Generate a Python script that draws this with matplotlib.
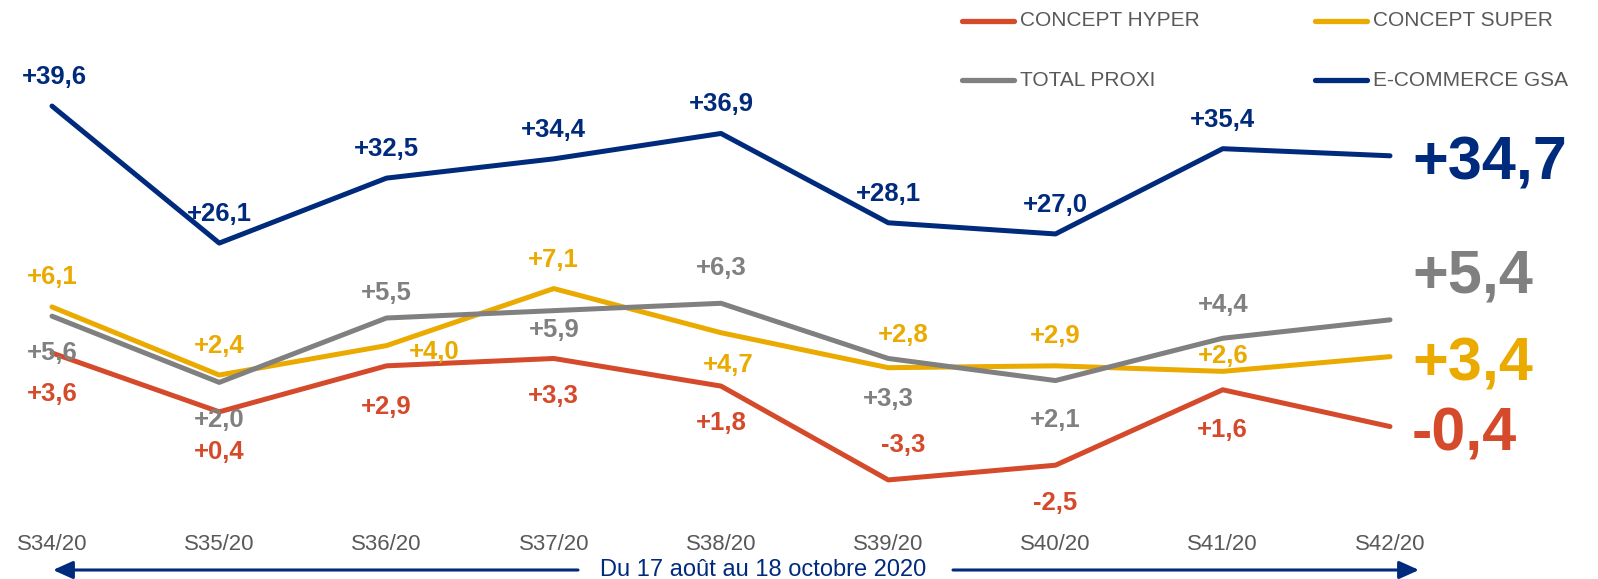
import matplotlib
matplotlib.use('Agg')
from matplotlib import pyplot as plt
from matplotlib.lines import Line2D

plt.rcParams['font.family'] = ['Liberation Sans', 'DejaVu Sans']

# data
weeks = ['S34/20', 'S35/20', 'S36/20', 'S37/20', 'S38/20', 'S39/20', 'S40/20', 'S41/20', 'S42/20']
hyper = [3.6, 0.4, 2.9, 3.3, 1.8, -3.3, -2.5, 1.6, -0.4]
super_ = [6.1, 2.4, 4.0, 7.1, 4.7, 2.8, 2.9, 2.6, 3.4]
proxi = [5.6, 2.0, 5.5, 5.9, 6.3, 3.3, 2.1, 4.4, 5.4]
ecom = [39.6, 26.1, 32.5, 34.4, 36.9, 28.1, 27.0, 35.4, 34.7]
names = ['CONCEPT HYPER', 'CONCEPT SUPER', 'TOTAL PROXI', 'E-COMMERCE GSA']
period = 'Du 17 août au 18 octobre 2020'

RED = '#D44A2A'
YELLOW = '#EBAA00'
GRAY = '#808080'
NAVY = '#002A7C'
TXT = '#595959'

# label offsets in pixels (dx, dy up) of the label centre
off_hyper = [(0, -39), (0, -38), (0, -39), (0, -36), (0, -35), (15, 37), (0, -36), (0, -38)]
off_super = [(0, 32), (0, 31), (48, -4), (0, 31), (7, -30), (15, 35), (0, 32), (0, 17)]
off_proxi = [(0, -35), (0, -36), (0, 27), (0, -17), (0, 37), (0, -39), (0, -37), (0, 35)]
off_ecom = [(2, 31), (0, 31), (0, 31), (0, 31), (0, 31), (0, 31), (0, 31), (0, 31)]
# final big label baseline offsets
off_last = [-24, -24, 27, -24]

W, H = 1598, 579
fig = plt.figure(figsize=(W / 100, H / 100), dpi=100)
ax = fig.add_axes([0, 0, 1, 1])
ax2 = ax.twinx()
for a in (ax, ax2):
    a.set_axis_off()

x = list(range(len(weeks)))
step = 167.25
ax.set_xlim(-52 / step, (W - 52) / step)
ax.set_ylim(-(H - 419.2) / 18.4, 419.2 / 18.4)
ax2.set_ylim(-(H - 508) / 10.15, 508 / 10.15)


def fmt(v):
    return f'{v:+.1f}'.replace('.', ',')


series = [(ax, hyper, RED, off_hyper), (ax, super_, YELLOW, off_super),
          (ax, proxi, GRAY, off_proxi), (ax2, ecom, NAVY, off_ecom)]

for k, (a, vals, col, offs) in enumerate(series):
    a.plot(x, vals, color=col, lw=3.6, solid_capstyle='round', solid_joinstyle='round')
    for i, v in enumerate(vals[:-1]):
        dx, dy = offs[i]
        a.annotate(fmt(v), (x[i], v), xytext=(dx, dy - 9), textcoords='offset pixels',
                   ha='center', va='baseline', fontsize=18.5, fontweight='bold', color=col)
    a.annotate(fmt(vals[-1]), (x[-1], vals[-1]), xytext=(22, off_last[k]),
               textcoords='offset pixels', ha='left', va='baseline',
               fontsize=44, fontweight='bold', color=col)

# week labels
for i, w in enumerate(weeks):
    ax.text(x[i], 1 - 545 / H, w, transform=ax.get_xaxis_transform(),
            ha='center', va='center', fontsize=16, color=TXT)

# period arrow
ya = 1 - 570 / H
arrow = dict(arrowstyle='-|>,head_length=0.6,head_width=0.27', color=NAVY, lw=2.2,
             shrinkA=0, shrinkB=0, mutation_scale=20)
fig.add_artist(matplotlib.patches.FancyArrowPatch((578 / W, ya), (53 / W, ya),
               transform=fig.transFigure, **arrow))
fig.add_artist(matplotlib.patches.FancyArrowPatch((953 / W, ya), (1419 / W, ya),
               transform=fig.transFigure, **arrow))
fig.text(763 / W, ya, period, ha='center', va='center', fontsize=17, color=NAVY)

# legend
leg_pos = [(962, 21), (1315, 21), (962, 80), (1315, 80)]
for (lx, ly), name, col in zip(leg_pos, names, [RED, YELLOW, GRAY, NAVY]):
    fig.add_artist(Line2D([lx / W, (lx + 52) / W], [1 - ly / H, 1 - ly / H],
                          transform=fig.transFigure, color=col, lw=3.8,
                          solid_capstyle='round'))
    fig.text((lx + 58) / W, 1 - ly / H, name, ha='left', va='center',
             fontsize=15, color=TXT)

fig.savefig('out.png', dpi=100)
